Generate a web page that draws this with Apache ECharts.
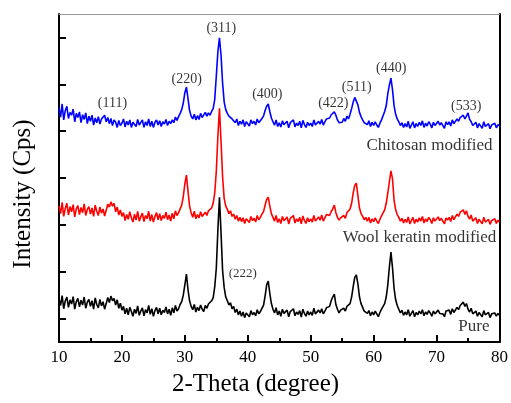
<!DOCTYPE html>
<html>
<head>
<meta charset="utf-8">
<script src="https://cdn.jsdelivr.net/npm/echarts@6/dist/echarts.min.js"></script>
<style>
  html, body { margin: 0; padding: 0; background: #fff; }
  #chart { width: 511px; height: 403px; }
</style>
</head>
<body>
<div id="chart"></div>
<script>
// XRD scans, 2-theta from 10 to 80 degrees, step 0.25 (stacked intensities)
const scanStart = 10;
const scanStep = 0.25;

const pureIntensity = [
  92, 78, 99, 71, 88, 96, 74, 90, 81, 97, 70, 86, 93, 75, 89, 79,
  96, 72, 85, 91, 76, 88, 70, 94, 80, 73, 91, 77, 86, 70, 82, 95,
  84, 98, 88, 93, 79, 90, 72, 83, 68, 76, 60, 72, 58, 74, 65, 55,
  70, 61, 77, 57, 66, 73, 56, 69, 62, 78, 59, 71, 55, 67, 74, 60,
  72, 58, 68, 63, 75, 60, 70, 57, 73, 62, 78, 66, 71, 80, 86, 100,
  122, 145, 112, 88, 76, 69, 80, 64, 74, 67, 79, 70, 65, 78, 72, 81,
  77, 88, 94, 118, 158, 240, 309, 232, 152, 116, 96, 88, 79, 84, 71, 76,
  63, 70, 58, 66, 55, 64, 52, 62, 60, 54, 67, 58, 63, 56, 69, 60,
  65, 72, 78, 98, 122, 130, 104, 82, 70, 62, 73, 58, 66, 55, 70, 61,
  57, 68, 54, 65, 62, 71, 56, 64, 59, 67, 53, 70, 61, 55, 66, 58,
  64, 57, 72, 60, 56, 68, 62, 71, 60, 66, 73, 69, 76, 88, 96, 102,
  80, 70, 62, 68, 64, 72, 66, 76, 74, 82, 96, 118, 138, 143, 124, 96,
  82, 74, 66, 70, 61, 67, 56, 64, 58, 66, 60, 54, 63, 70, 68, 82,
  96, 122, 160, 192, 158, 114, 90, 78, 70, 62, 68, 57, 64, 58, 69, 55,
  61, 67, 54, 63, 58, 66, 60, 69, 56, 64, 59, 67, 62, 55, 66, 60,
  57, 68, 61, 65, 60, 54, 66, 62, 68, 59, 71, 63, 66, 74, 69, 78,
  80, 85, 76, 82, 70, 64, 72, 60, 58, 66, 55, 63, 61, 54, 67, 58,
  56, 63, 52, 60, 58, 62, 55, 61, 57
];

const woolIntensity = [
  290, 274, 298, 268, 285, 296, 271, 289, 278, 293, 267, 284, 291, 272, 287, 276,
  295, 270, 283, 289, 273, 286, 268, 292, 279, 270, 288, 275, 284, 269, 281, 294,
  288, 299, 290, 296, 278, 288, 271, 282, 268, 276, 259, 272, 262, 278, 265, 256,
  273, 260, 279, 258, 267, 275, 257, 270, 263, 279, 258, 272, 256, 268, 276, 261,
  274, 259, 270, 264, 277, 261, 271, 258, 275, 263, 280, 270, 276, 284, 292, 310,
  338, 356, 322, 290, 276, 266, 279, 263, 272, 265, 278, 268, 264, 277, 270, 280,
  276, 286, 296, 318, 365, 440, 499, 428, 352, 306, 290, 283, 274, 280, 268, 273,
  262, 270, 258, 266, 257, 265, 253, 263, 260, 255, 268, 259, 264, 256, 270, 261,
  266, 273, 278, 292, 304, 309, 290, 274, 266, 258, 270, 255, 263, 253, 268, 259,
  255, 267, 252, 264, 260, 270, 254, 263, 257, 266, 252, 269, 259, 253, 265, 257,
  263, 256, 270, 258, 254, 267, 260, 271, 258, 265, 272, 268, 270, 278, 284, 292,
  276, 266, 260, 265, 262, 270, 264, 276, 272, 284, 296, 318, 334, 339, 312, 286,
  274, 268, 261, 266, 258, 266, 254, 263, 257, 265, 258, 253, 262, 269, 270, 282,
  296, 318, 342, 365, 348, 302, 282, 272, 266, 258, 264, 254, 262, 255, 267, 252,
  259, 266, 253, 262, 256, 265, 258, 268, 254, 263, 257, 266, 261, 253, 265, 258,
  255, 267, 259, 264, 258, 252, 265, 260, 266, 257, 270, 261, 265, 273, 268, 277,
  279, 282, 272, 280, 268, 262, 271, 258, 256, 265, 253, 262, 259, 252, 266, 256,
  254, 262, 251, 259, 256, 263, 253, 260, 256
];

const chitosanIntensity = [
  500, 480, 508, 474, 494, 503, 477, 490, 484, 497, 470, 488, 479, 491, 468, 485,
  475, 489, 466, 482, 471, 484, 463, 478, 468, 481, 465, 476, 472, 484, 470, 479,
  466, 477, 462, 474, 469, 458, 473, 462, 467, 476, 459, 471, 463, 474, 458, 469,
  470, 460, 475, 463, 466, 474, 458, 470, 462, 476, 460, 471, 458, 469, 474, 463,
  472, 460, 470, 465, 475, 462, 471, 466, 474, 468, 480, 473, 481, 488, 496, 510,
  532, 544, 520, 494, 482, 476, 486, 474, 483, 475, 488, 479, 477, 490, 482, 489,
  484, 492, 498, 518, 568, 620, 649, 612, 552, 512, 496, 488, 482, 486, 476, 479,
  468, 476, 462, 471, 465, 474, 460, 470, 468, 461, 474, 466, 471, 463, 476, 468,
  470, 477, 482, 494, 503, 508, 492, 478, 470, 463, 474, 460, 468, 459, 472, 464,
  460, 471, 457, 468, 465, 474, 459, 467, 462, 471, 457, 473, 464, 458, 469, 462,
  467, 460, 474, 463, 459, 471, 465, 475, 463, 470, 476, 480, 478, 485, 488, 491,
  484, 474, 468, 472, 469, 477, 471, 482, 476, 486, 498, 512, 522, 525, 506, 490,
  481, 474, 468, 472, 464, 472, 460, 469, 462, 470, 463, 458, 467, 474, 478, 492,
  504, 530, 548, 563, 538, 504, 486, 476, 470, 462, 468, 458, 466, 459, 471, 456,
  463, 470, 457, 466, 460, 469, 462, 472, 458, 467, 461, 470, 465, 457, 469, 462,
  459, 471, 463, 468, 462, 456, 470, 464, 470, 461, 474, 466, 468, 476, 471, 479,
  478, 484, 476, 482, 489, 475, 470, 462, 460, 469, 457, 466, 463, 456, 470, 460,
  458, 466, 455, 463, 460, 467, 457, 464, 461
];

// Miller indices of the spinel reflections and where their tags sit
const hklLabels = ['(111)', '(220)', '(311)', '(400)', '(422)', '(511)', '(440)', '(533)'];
const hklAngles = [18.5, 30.3, 35.8, 43.1, 53.6, 57.3, 62.8, 74.7];
const hklHeights = [510, 561, 670, 529, 510, 544, 585, 504];

const extraLabel = '(222)';
const extraAngle = 39.2;
const extraHeight = 145;

// Sample names, right-aligned under each trace
const sampleNames = ['Chitosan modified', 'Wool keratin modified', 'Pure'];
const sampleNameAngles = [78.9, 79.5, 78.4];
const sampleNameHeights = [420, 224, 32];

const xTicks = [10, 20, 30, 40, 50, 60, 70, 80];
const yTickValues = [50, 150, 250, 350, 450, 550, 650];

function pairs(values) {
  return values.map((v, i) => [scanStart + i * scanStep, v]);
}

const serif = 'Liberation Serif, Times New Roman, serif';
const traceWidth = 1.6;
const chart = echarts.init(document.getElementById('chart'), null, { renderer: 'canvas' });

chart.setOption({
  animation: false,
  backgroundColor: '#ffffff',
  grid: { left: 59, right: 11, top: 14, bottom: 61, containLabel: false },
  xAxis: [
    {
      type: 'value', min: xTicks[0], max: xTicks[xTicks.length - 1], interval: 10,
      axisLine: { show: true, onZero: false, lineStyle: { color: '#000', width: 2 } },
      axisTick: { show: true, inside: true, length: 7, lineStyle: { color: '#000', width: 2 } },
      minorTick: { show: true, splitNumber: 2, length: 4, lineStyle: { color: '#000', width: 2 } },
      axisLabel: { color: '#000', fontFamily: serif, fontSize: 17, margin: 7 },
      splitLine: { show: false }
    },
    {
      type: 'value', position: 'top', min: 10, max: 80,
      axisLine: { show: true, onZero: false, lineStyle: { color: '#9a9a9a', width: 1 } },
      axisTick: { show: false }, axisLabel: { show: false }, splitLine: { show: false }
    }
  ],
  yAxis: [
    {
      type: 'value', min: 0, max: 700,
      axisLine: { show: true, onZero: false, lineStyle: { color: '#000', width: 2 } },
      axisTick: { show: true, inside: true, length: 7, customValues: yTickValues, lineStyle: { color: '#000', width: 2 } },
      axisLabel: { show: false },
      splitLine: { show: false }
    },
    {
      type: 'value', position: 'right', min: 0, max: 700,
      axisLine: { show: true, onZero: false, lineStyle: { color: '#000', width: 2 } },
      axisTick: { show: false }, axisLabel: { show: false }, splitLine: { show: false }
    }
  ],
  graphic: [
    {
      type: 'text', left: 'center', top: 372,
      style: { text: '2-Theta (degree)', font: '25px ' + serif, fill: '#000', textAlign: 'center' }
    },
    {
      type: 'text', x: 11, y: 194, rotation: Math.PI / 2,
      style: { text: 'Intensity (Cps)', font: '25px ' + serif, fill: '#000', textAlign: 'center', textVerticalAlign: 'top' }
    }
  ],
  series: [
    {
      name: 'Chitosan modified', type: 'line', data: pairs(chitosanIntensity),
      showSymbol: false, symbol: 'none', lineStyle: { color: '#0000ff', width: traceWidth }, z: 2
    },
    {
      name: 'Wool keratin modified', type: 'line', data: pairs(woolIntensity),
      showSymbol: false, symbol: 'none', lineStyle: { color: '#ff0000', width: traceWidth }, z: 3
    },
    {
      name: 'Pure', type: 'line', data: pairs(pureIntensity),
      showSymbol: false, symbol: 'none', lineStyle: { color: '#000000', width: traceWidth }, z: 4
    },
    {
      type: 'scatter', symbolSize: 0, z: 6, silent: true,
      data: hklLabels.map((t, i) => ({ name: t, value: [hklAngles[i], hklHeights[i]] })),
      label: { show: true, position: 'inside', formatter: p => p.name, color: '#000', fontFamily: serif, fontSize: 14 }
    },
    {
      type: 'scatter', symbolSize: 0, z: 6, silent: true,
      data: [{ name: extraLabel, value: [extraAngle, extraHeight] }],
      label: { show: true, position: 'inside', formatter: p => p.name, color: '#000', fontFamily: serif, fontSize: 13 }
    },
    {
      type: 'scatter', symbolSize: 0, z: 6, silent: true,
      data: sampleNames.map((t, i) => ({ name: t, value: [sampleNameAngles[i], sampleNameHeights[i]] })),
      label: { show: true, position: 'inside', align: 'right', formatter: p => p.name, color: '#000', fontFamily: serif, fontSize: 17 }
    }
  ]
});
</script>
</body>
</html>
